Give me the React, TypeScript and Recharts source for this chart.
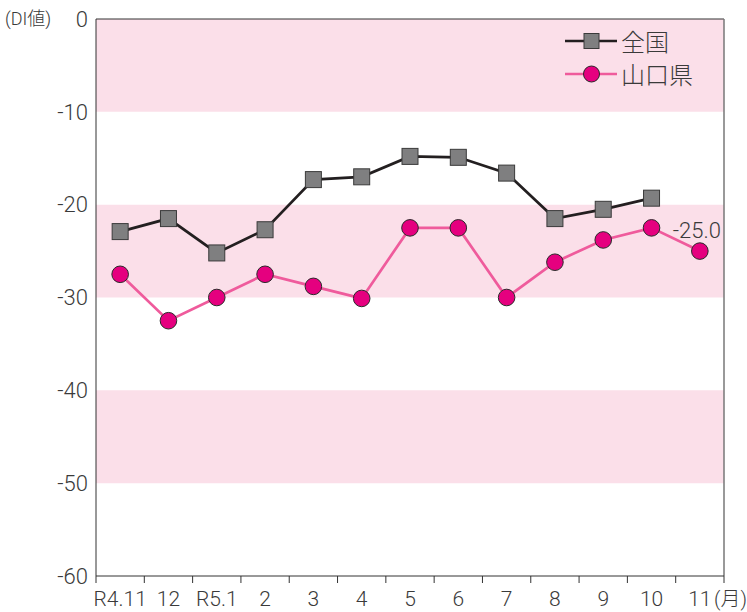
import React from 'react';
import { LineChart, Line, XAxis, YAxis, ReferenceArea, ReferenceLine, Legend, LabelList, Label } from 'recharts';

const categories = ['R4.11', '12', 'R5.1', '2', '3', '4', '5', '6', '7', '8', '9', '10', '11'];
const zenkoku: (number | null)[] = [-22.9, -21.5, -25.2, -22.7, -17.3, -17.0, -14.8, -14.9, -16.6, -21.5, -20.5, -19.3, null];
const yamaguchi: number[] = [-27.5, -32.5, -30.0, -27.5, -28.8, -30.1, -22.5, -22.5, -30.0, -26.2, -23.8, -22.5, -25.0];
const yTicks = [-60, -50, -40, -30, -20, -10, 0];
const bands: [number, number][] = [[0, -10], [-20, -30], [-40, -50]];
const seriesNames = ['全国', '山口県'];
const yUnit = '(DI値)';
const xUnit = '(月)';

const data = categories.map((c, i) => ({
  x: i + 0.5,
  cat: c,
  zenkoku: zenkoku[i],
  yamaguchi: yamaguchi[i],
}));

const boundaryTicks = categories.map((_, i) => i).concat([categories.length]);
const labelTicks = categories.map((_, i) => i + 0.5);
const allTicks = [...boundaryTicks, ...labelTicks].sort((a, b) => a - b);

const NUM_FONT = 'Roboto, "DejaVu Sans Condensed", sans-serif';
const JP_FONT = '"Noto Sans CJK JP", "Noto Sans", sans-serif';
const MIX_FONT = 'Roboto, "Noto Sans CJK JP", sans-serif';
const TEXT = '#3a3a3a';
const PINK_BAND = '#fbdfe9';
const PINK_LINE = '#ef5b9c';
const MAGENTA = '#e5007f';

const XTick = (props: any) => {
  const { x, y, payload } = props;
  const v = payload.value as number;
  const axisY = y - 8;
  if (Number.isInteger(v)) {
    const isLast = v === categories.length;
    return (
      <g>
        <line x1={x} y1={axisY} x2={x} y2={axisY + 7} stroke="#333" strokeWidth={1} />
        {isLast && (
          <text x={747} y={axisY + 30} fill={TEXT} fontSize={20} fontWeight={300} fontFamily={MIX_FONT} textAnchor="end">
            {xUnit}
          </text>
        )}
      </g>
    );
  }
  const idx = Math.floor(v);
  return (
    <text x={x} y={axisY + 30} fill={TEXT} fontSize={21} fontWeight={300} fontFamily={NUM_FONT} textAnchor="middle">
      {categories[idx]}
    </text>
  );
};

const SquareDot = (props: any) => {
  const { cx, cy, value } = props;
  if (value == null || cx == null || cy == null) return <g key={props.index} />;
  return <rect key={props.index} x={cx - 8} y={cy - 8} width={16} height={16} fill="#7f7f80" stroke="#3a3a3a" strokeWidth={1} />;
};

const CircleDot = (props: any) => {
  const { cx, cy } = props;
  if (cx == null || cy == null) return <g key={props.index} />;
  return <circle key={props.index} cx={cx} cy={cy} r={8.3} fill={MAGENTA} stroke="#2a2a2a" strokeWidth={1} />;
};

const LegendContent = () => (
  <div style={{ display: 'flex', flexDirection: 'column', gap: 0 }}>
    {[0, 1].map((i) => (
      <div key={i} style={{ display: 'flex', alignItems: 'center', height: 33 }}>
        <svg width={56} height={20} style={{ display: 'block' }}>
          <line x1={0} y1={10} x2={52} y2={10} stroke={i === 0 ? '#231f20' : PINK_LINE} strokeWidth={2.5} />
          {i === 0 ? (
            <rect x={19} y={2.5} width={15} height={15} fill="#7f7f80" stroke="#3a3a3a" strokeWidth={1} />
          ) : (
            <circle cx={26.5} cy={10} r={8} fill={MAGENTA} stroke="#2a2a2a" strokeWidth={1} />
          )}
        </svg>
        <span style={{ fontFamily: JP_FONT, fontSize: 24, fontWeight: 300, color: TEXT, lineHeight: '33px' }}>{seriesNames[i]}</span>
      </div>
    ))}
  </div>
);

const LastLabel = (props: any) => {
  const { x, y, value, index } = props;
  if (index !== categories.length - 1) return null;
  return (
    <text x={x - 3} y={y - 13} fill={TEXT} fontSize={22} fontWeight={300} fontFamily={NUM_FONT} textAnchor="middle">
      {Number(value).toFixed(1)}
    </text>
  );
};

export default function App() {
  return (
    <div style={{ position: 'absolute', left: 0, top: 0, background: '#fff' }}>
      <LineChart width={747} height={612} data={data} margin={{ top: 19, right: 23, bottom: 0, left: 0 }}>
        {bands.map(([a, b], i) => (
          <ReferenceArea key={i} y1={a} y2={b} fill={PINK_BAND} fillOpacity={1} stroke="none" ifOverflow="visible" />
        ))}
        <XAxis
          dataKey="x"
          type="number"
          domain={[0, categories.length]}
          ticks={allTicks}
          interval={0}
          tickLine={false}
          axisLine={{ stroke: '#333', strokeWidth: 1 }}
          tick={<XTick />}
          height={36}
          allowDecimals
        />
        <YAxis
          type="number"
          domain={[-60, 0]}
          ticks={yTicks}
          interval={0}
          tickLine={false}
          axisLine={{ stroke: '#333', strokeWidth: 1 }}
          width={96}
          tick={{ fill: TEXT, fontSize: 22, fontWeight: 300, fontFamily: NUM_FONT }}
        >
          <Label
            content={() => (
              <text x={5} y={25} fill={TEXT} fontSize={18} fontWeight={300} fontFamily={MIX_FONT}>
                {yUnit}
              </text>
            )}
          />
        </YAxis>
        <ReferenceLine y={0} stroke="#333" strokeWidth={1} />
        <ReferenceLine x={categories.length} stroke="#777" strokeWidth={1.5} />
        <Legend
          layout="horizontal"
          verticalAlign="middle"
          align="center"
          content={<LegendContent />}
          wrapperStyle={{ top: 24, left: 565, width: 170, height: 66 }}
        />
        <Line
          dataKey="zenkoku"
          name={seriesNames[0]}
          stroke="#231f20"
          strokeWidth={2.7}
          dot={<SquareDot />}
          activeDot={false}
          isAnimationActive={false}
          connectNulls={false}
        />
        <Line
          dataKey="yamaguchi"
          name={seriesNames[1]}
          stroke={PINK_LINE}
          strokeWidth={2.7}
          dot={<CircleDot />}
          activeDot={false}
          isAnimationActive={false}
        >
          <LabelList dataKey="yamaguchi" content={<LastLabel />} />
        </Line>
      </LineChart>
    </div>
  );
}
